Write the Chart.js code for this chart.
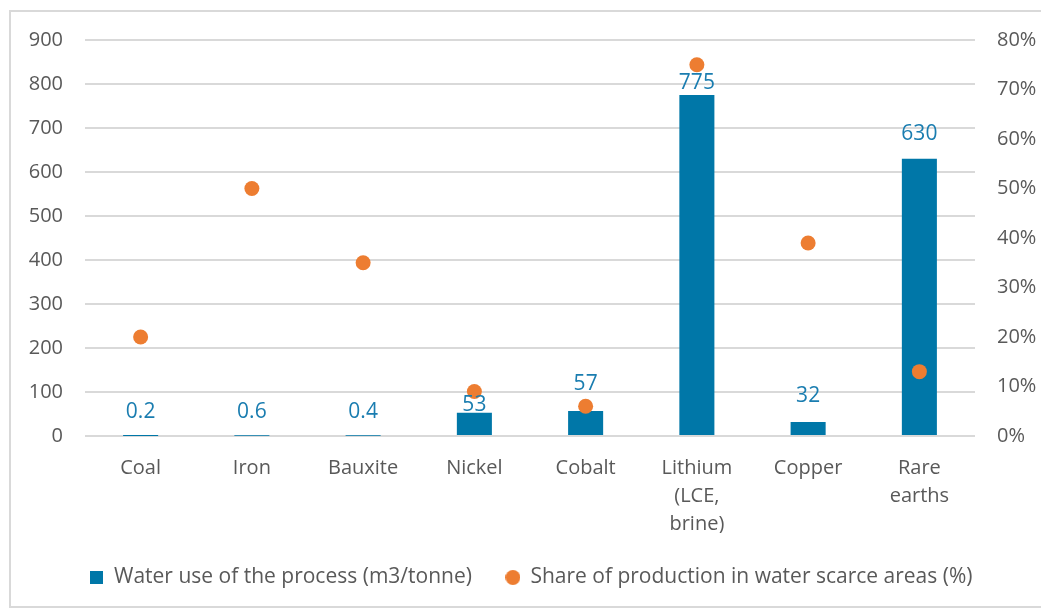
<!DOCTYPE html>
<html>
<head>
<meta charset="utf-8">
<script src="https://cdn.jsdelivr.net/npm/chart.js@4/dist/chart.umd.min.js"></script>
<style>
  html, body { margin: 0; padding: 0; background: #fff; overflow: hidden; }
  #wrap { position: absolute; left: 9px; top: 10px; width: 1060px; height: 598px; border: 2px solid #d9d9d9; box-sizing: border-box; }
  #chart { display: block; }
</style>
</head>
<body>
<div id="wrap"><canvas id="chart" width="1040" height="594"></canvas></div>
<script>
var categories = ['Coal', 'Iron', 'Bauxite', 'Nickel', 'Cobalt', ['Lithium', '(LCE,', 'brine)'], 'Copper', ['Rare', 'earths']];
var waterUse = [0.2, 0.6, 0.4, 53, 57, 775, 32, 630];
var waterUseLabels = ['0.2', '0.6', '0.4', '53', '57', '775', '32', '630'];
var scarceShare = [0.20, 0.50, 0.35, 0.09, 0.06, 0.75, 0.39, 0.13];
var leftTicks = [0, 100, 200, 300, 400, 500, 600, 700, 800, 900];
var rightTicks = [0, 0.1, 0.2, 0.3, 0.4, 0.5, 0.6, 0.7, 0.8];

var BLUE = '#0077a8';
var ORANGE = '#ed7d31';
var GREY = '#595959';
var FONT = "'Open Sans', 'Noto Sans', sans-serif";

// small legend markers: a square for the bars, a dot for the points
function marker(color, size, round) {
    var c = document.createElement('canvas');
    c.width = size; c.height = size;
    var g = c.getContext('2d');
    g.fillStyle = color;
    if (round) {
        g.beginPath();
        g.arc(size / 2, size / 2, size / 2, 0, Math.PI * 2);
        g.fill();
    } else {
        g.fillRect(0, 0, size, size);
    }
    return c;
}
var squareMark = marker(BLUE, 13, false);
var dotMark = marker(ORANGE, 15, true);

// draws the value labels above the bars
var barLabels = {
    id: 'barLabels',
    afterDatasetsDraw: function (chart, args, opts) {
        var meta = chart.getDatasetMeta(1);
        var ctx = chart.ctx;
        ctx.save();
        ctx.fillStyle = '#1a7db0';
        ctx.font = '21px ' + FONT;
        ctx.textAlign = 'center';
        ctx.textBaseline = 'middle';
        meta.data.forEach(function (bar, i) {
            var off = (opts.offsets && opts.offsets[i] != null) ? opts.offsets[i] : 24;
            ctx.fillText(waterUseLabels[i], bar.x, bar.y - off);
        });
        ctx.restore();
    }
};

// fixed side widths, no extra vertical padding from the value axes
function fitSide(width) {
    return function (axis) {
        axis.width = width;
        axis.paddingTop = 0;
        axis.paddingBottom = 0;
    };
}

new Chart(document.getElementById('chart'), {
    data: {
        labels: categories,
        datasets: [
            {
                type: 'line',
                label: 'Share of production in water scarce areas (%)',
                data: scarceShare,
                yAxisID: 'y1',
                showLine: false,
                pointRadius: 7.5,
                pointHoverRadius: 7.5,
                pointBackgroundColor: ORANGE,
                pointBorderWidth: 0,
                borderColor: ORANGE,
                backgroundColor: ORANGE,
                order: 0
            },
            {
                type: 'bar',
                label: 'Water use of the process (m3/tonne)',
                data: waterUse,
                yAxisID: 'y',
                backgroundColor: BLUE,
                categoryPercentage: 1,
                barPercentage: 0.315,
                order: 1
            }
        ]
    },
    options: {
        responsive: false,
        animation: false,
        layout: { padding: { top: 28, left: 0, right: 0, bottom: 8 } },
        plugins: {
            tooltip: { enabled: false },
            barLabels: { offsets: [24, 24, 24, 8, 27, 12, 26, 25] },
            legend: {
                position: 'bottom',
                labels: {
                    usePointStyle: true,
                    boxWidth: 14,
                    boxHeight: 14,
                    padding: 34,
                    color: GREY,
                    font: { family: FONT, size: 21 },
                    generateLabels: function (chart) {
                        var ds = chart.data.datasets;
                        return [
                            { text: ds[1].label, fillStyle: BLUE, strokeStyle: BLUE, lineWidth: 0, pointStyle: squareMark, fontColor: GREY, datasetIndex: 1 },
                            { text: ds[0].label, fillStyle: ORANGE, strokeStyle: ORANGE, lineWidth: 0, pointStyle: dotMark, fontColor: GREY, datasetIndex: 0 }
                        ];
                    }
                }
            }
        },
        scales: {
            x: {
                grid: { display: false, drawTicks: false },
                border: { display: false },
                afterFit: function (axis) { axis.height = 97; },
                ticks: { color: GREY, font: { family: FONT, size: 20, lineHeight: 1.4 }, padding: 18, maxRotation: 0, autoSkip: false }
            },
            y: {
                position: 'left',
                min: 0,
                max: 900,
                afterBuildTicks: function (axis) { axis.ticks = leftTicks.map(function (v) { return { value: v }; }); },
                afterFit: fitSide(74),
                grid: { color: '#d9d9d9', lineWidth: 2, drawTicks: false },
                border: { display: false },
                ticks: { color: GREY, font: { family: FONT, size: 20 }, padding: 22 }
            },
            y1: {
                position: 'right',
                min: 0,
                max: 0.8,
                afterBuildTicks: function (axis) { axis.ticks = rightTicks.map(function (v) { return { value: v }; }); },
                afterFit: fitSide(76),
                grid: { display: false, drawTicks: false },
                border: { display: false },
                ticks: {
                    color: GREY,
                    font: { family: FONT, size: 20 },
                    padding: 22,
                    callback: function (v) { return Math.round(v * 100) + '%'; }
                }
            }
        }
    },
    plugins: [barLabels]
});
</script>
</body>
</html>
